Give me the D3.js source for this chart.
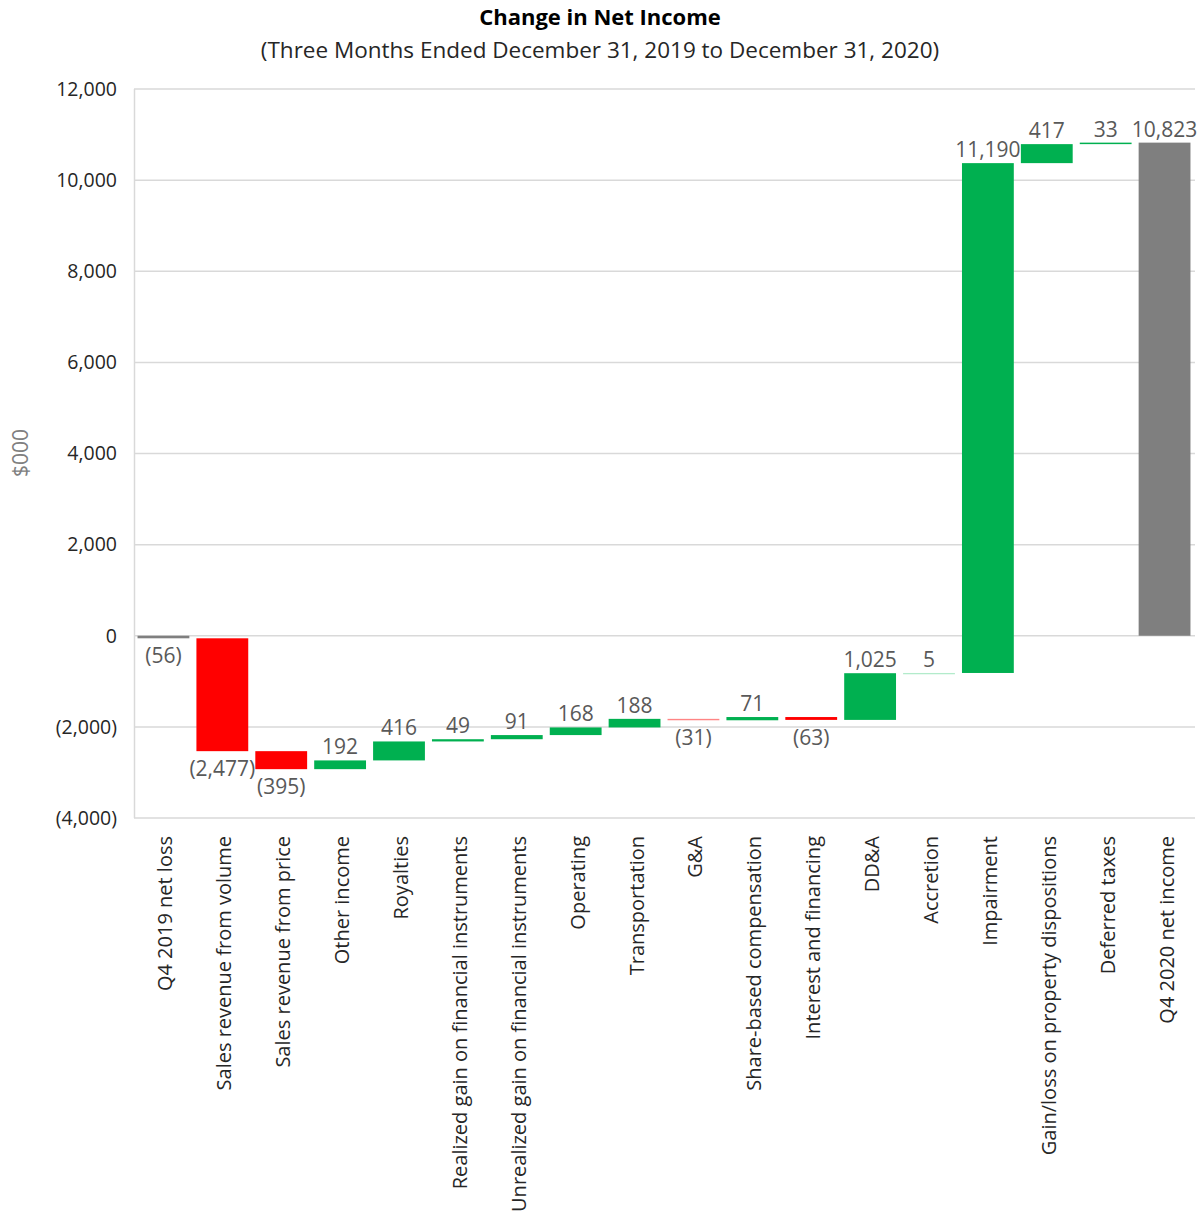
<!DOCTYPE html>
<html><head><meta charset="utf-8">
<script src="https://cdn.jsdelivr.net/npm/d3@7"></script>
<style>body{margin:0;background:#fff;} svg{display:block;font-family:"Open Sans","Noto Sans",sans-serif;}</style>
</head><body>
<svg id="chart" width="1203" height="1213"></svg>
<script>
const categories = ["Q4 2019 net loss","Sales revenue from volume","Sales revenue from price","Other income","Royalties","Realized gain on financial instruments","Unrealized gain on financial instruments","Operating","Transportation","G&A","Share-based compensation","Interest and financing","DD&A","Accretion","Impairment","Gain/loss on property dispositions","Deferred taxes","Q4 2020 net income"];
const values = [-56,-2477,-395,192,416,49,91,168,188,-31,71,-63,1025,5,11190,417,33,10823];
const kinds = ["total","delta","delta","delta","delta","delta","delta","delta","delta","delta","delta","delta","delta","delta","delta","delta","delta","total"];
const yTicks = [-4000,-2000,0,2000,4000,6000,8000,10000,12000];

const svg = d3.select("#chart");
const x = d3.scaleBand().domain(categories).range([134,1194]).paddingInner(0.12).paddingOuter(0.06);
const y = d3.scaleLinear().domain([-4000,12000]).range([818,89]);

const fmt = v => { const s = d3.format(",")(Math.abs(v)); return v < 0 ? "(" + s + ")" : s; };

let run = 0;
const bars = categories.map((c,i) => {
  let start, end;
  if (kinds[i] === "total") { start = 0; end = values[i]; run = values[i]; }
  else { start = run; end = run + values[i]; run = end; }
  return {c, v: values[i], start, end, kind: kinds[i]};
});

svg.append("g").selectAll("line").data(yTicks).join("line")
  .attr("x1",134).attr("x2",1195)
  .attr("y1",d=>y(d)).attr("y2",d=>y(d))
  .attr("stroke","#d9d9d9").attr("stroke-width",1.5);
svg.append("line").attr("x1",134.5).attr("x2",134.5).attr("y1",y(12000)).attr("y2",y(-4000))
  .attr("stroke","#d9d9d9").attr("stroke-width",1.5);

const yAxis = d3.axisLeft(y).tickValues(yTicks).tickSize(0).tickPadding(17).tickFormat(fmt);
const gy = svg.append("g").attr("transform","translate(134,0)").call(yAxis);
gy.select(".domain").remove();
gy.selectAll("text").attr("font-size",19.5).attr("fill","#262626").attr("font-family","'Open Sans',sans-serif");

const hOf = d => Math.abs(y(d.start)-y(d.end));
const colorOf = d => {
  if (d.kind === "total") return "#7f7f7f";
  const h = hOf(d);
  if (d.v < 0) return h < 1.45 ? "#ff8585" : "#ff0000";
  return h < 0.5 ? "#b3ebcb" : "#00b050";
};
svg.append("g").selectAll("rect").data(bars).join("rect")
  .attr("x",d=>x(d.c)).attr("width",x.bandwidth())
  .attr("y",d=>Math.min(y(d.start),y(d.end)))
  .attr("height",d=>Math.max(1.3,hOf(d)))
  .attr("fill",colorOf);

svg.append("g").selectAll("text").data(bars).join("text")
  .attr("x",d=>x(d.c)+x.bandwidth()/2)
  .attr("y",d=> d.v < 0 ? Math.max(y(d.start),y(d.end)) + 25 : Math.min(y(d.start),y(d.end)) - 6)
  .attr("text-anchor","middle").attr("font-size",21).attr("fill","#595959")
  .text(d=>fmt(d.v));

svg.append("g").selectAll("text").data(categories).join("text")
  .attr("transform",d=>`translate(${x(d)+x.bandwidth()/2+9},836) rotate(-90)`)
  .attr("text-anchor","end").attr("font-size",20).attr("fill","#262626")
  .text(d=>d);

svg.append("text").attr("transform","translate(28,453) rotate(-90)")
  .attr("text-anchor","middle").attr("font-size",21).attr("fill","#808080").text("$000");

svg.append("text").attr("x",600).attr("y",25).attr("text-anchor","middle")
  .attr("font-size",22).attr("font-weight","bold").attr("fill","#000").text("Change in Net Income");
svg.append("text").attr("x",600).attr("y",58).attr("text-anchor","middle")
  .attr("font-size",22.5).attr("fill","#262626").text("(Three Months Ended December 31, 2019 to December 31, 2020)");
</script>
</body></html>
